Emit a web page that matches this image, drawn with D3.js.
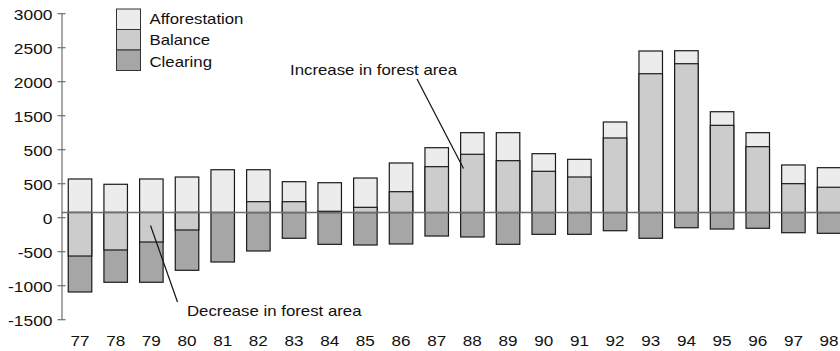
<!DOCTYPE html>
<html>
<head>
<meta charset="utf-8">
<script src="https://cdn.jsdelivr.net/npm/d3@7/dist/d3.min.js"></script>
<style>
  html, body { margin: 0; padding: 0; background: #fff; }
  svg { display: block; font-family: "Liberation Sans", Arial, sans-serif; }
</style>
</head>
<body>
<svg id="chart" width="840" height="351"></svg>
<script>
// ---- data ----
const years = ["77","78","79","80","81","82","83","84","85","86","87","88","89","90","91","92","93","94","95","96","97","98"];
const afforestation = [493,415,493,522,629,629,453,438,507,728,953,1174,1174,865,782,1331,2375,2379,1482,1174,699,659];
const balance       = [-640,-551,-434,-257,0,159,159,18,76,306,674,856,762,606,522,1096,2041,2188,1282,968,424,371];
const clearing      = [1169,1026,1026,850,728,566,379,468,478,463,346,360,468,321,321,268,379,224,243,232,297,306];
const tickValues = [3000,2500,2000,1500,1000,500,0,-500,-1000,-1500];
const tickLabels = ["3000","2500","2000","1500","500","500","0","-500","-1000","-1500"];
const seriesNames = ["Afforestation","Balance","Clearing"];
const seriesColors = ["#ececec","#cccccc","#a6a6a6"];
const annotations = ["Increase in forest area","Decrease in forest area"];

// ---- layout ----
const svg = d3.select("#chart");
const x = d3.scaleBand().domain(years).range([62.2, 846.9]).paddingInner(0.341).paddingOuter(0.17);
const y = d3.scaleLinear().domain([-1500, 3000]).range([314.5, 8.5]);
const axisX = 61.5, axisShift = 4.7;
const stroke = "#1a1a1a";

function stretch(sel, k) {
  sel.each(function() {
    const t = d3.select(this);
    const ax = +t.attr("x") || 0;
    t.attr("transform", `translate(${ax * (1 - k)},0) scale(${k},1)`);
  });
}

// bars
const rows = years.map((yr, i) => ({yr, a: afforestation[i], b: balance[i], c: clearing[i]}));
const g = svg.append("g");
function rectFor(sel, v0, v1, fill) {
  sel.append("rect")
    .attr("x", d => x(d.yr))
    .attr("width", x.bandwidth())
    .attr("y", d => Math.min(y(v0(d)), y(v1(d))))
    .attr("height", d => Math.abs(y(v0(d)) - y(v1(d))))
    .attr("fill", fill)
    .attr("stroke", stroke)
    .attr("stroke-width", 1.2);
}
const bars = g.selectAll("g.bar").data(rows).join("g").attr("class", "bar");
rectFor(bars, d => 0, d => d.a, seriesColors[0]);
rectFor(bars, d => 0, d => -d.c, seriesColors[2]);
rectFor(bars.filter(d => d.b !== 0), d => 0, d => d.b, seriesColors[1]);

// zero line
svg.append("line")
  .attr("x1", axisX).attr("x2", 840)
  .attr("y1", y(0)).attr("y2", y(0))
  .attr("stroke", "#6e6e6e").attr("stroke-width", 1.6);

// y axis
const yAxis = d3.axisLeft(y).tickValues(tickValues)
  .tickFormat((d, i) => tickLabels[i]).tickSizeOuter(0).tickSizeInner(4).tickPadding(5);
const ag = svg.append("g").attr("transform", `translate(${axisX},${axisShift})`).call(yAxis);
ag.select(".domain").attr("stroke", "#6e6e6e").attr("stroke-width", 1.2);
ag.selectAll(".tick line").attr("x1", -4).attr("x2", 4).attr("stroke", "#6e6e6e").attr("stroke-width", 1.2);
ag.selectAll(".tick text")
  .attr("x", -9).attr("dy", "0.46em")
  .attr("font-size", 14.5).attr("font-family", '"Liberation Sans", Arial, sans-serif').attr("fill", "#111");
stretch(ag.selectAll(".tick text"), 1.2);

// x labels
const xl = svg.append("g").selectAll("text").data(years).join("text")
  .attr("x", d => x(d) + x.bandwidth() / 2)
  .attr("y", 346)
  .attr("text-anchor", "middle")
  .attr("font-size", 14.5).attr("fill", "#111")
  .text(d => d);
stretch(xl, 1.18);

// legend
const lg = svg.append("g");
seriesNames.forEach((name, i) => {
  lg.append("rect").attr("x", 116.5).attr("y", 9 + i * 20.5).attr("width", 24).attr("height", 20.5)
    .attr("fill", seriesColors[i]).attr("stroke", "#333").attr("stroke-width", 1);
  lg.append("text").attr("x", 149.5).attr("y", 24 + i * 21.3)
    .attr("font-size", 14).attr("fill", "#111").text(name);
});
stretch(lg.selectAll("text"), 1.2);

// annotations
const an = svg.append("g");
an.append("text").attr("x", 290).attr("y", 75.5).attr("font-size", 14).attr("fill", "#111").text(annotations[0]);
an.append("line").attr("x1", 417).attr("y1", 79).attr("x2", 463.5).attr("y2", 168.5)
  .attr("stroke", "#111").attr("stroke-width", 1.2);
an.append("text").attr("x", 187).attr("y", 316).attr("font-size", 14).attr("fill", "#111").text(annotations[1]);
an.append("line").attr("x1", 150.5).attr("y1", 225.5).attr("x2", 177.5).attr("y2", 302)
  .attr("stroke", "#111").attr("stroke-width", 1.2);
stretch(an.selectAll("text"), 1.2);
</script>
</body>
</html>
